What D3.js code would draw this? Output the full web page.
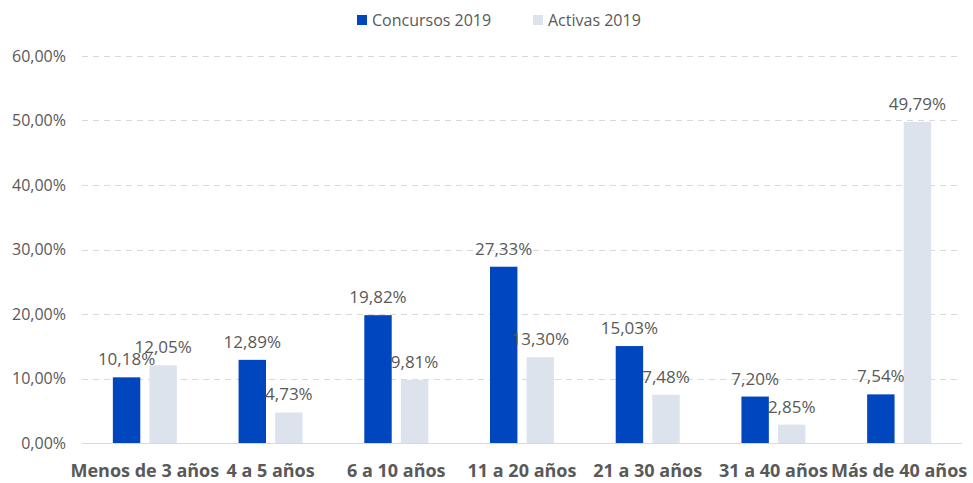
<!DOCTYPE html>
<html>
<head>
<meta charset="utf-8">
<script src="https://cdn.jsdelivr.net/npm/d3@7"></script>
<style>
  body { margin: 0; background: #fff; }
  svg { display: block; font-family: "Open Sans", sans-serif; }
</style>
</head>
<body>
<div id="chart"></div>
<script>
// ========= Data ========= //
const categories = ['Menos de 3 años', '4 a 5 años', '6 a 10 años', '11 a 20 años', '21 a 30 años', '31 a 40 años', 'Más de 40 años'];
const concursos = [10.18, 12.89, 19.82, 27.33, 15.03, 7.20, 7.54];
const activas = [12.05, 4.73, 9.81, 13.30, 7.48, 2.85, 49.79];
const seriesNames = ['Concursos 2019', 'Activas 2019'];
const yTicks = [0, 10, 20, 30, 40, 50, 60];

// ========= Constants ========= //
const width = 973;
const height = 483;
const margin = { top: 56, right: 11, bottom: 40, left: 82 };
const colors = ['#0046BE', '#DCE3EC'];
const textColor = '#595959';
const fmt = (v) => v.toFixed(2).replace('.', ',') + '%';

const svg = d3.select('#chart').append('svg')
  .attr('width', width)
  .attr('height', height);

// ========= Scales ========= //
const x = d3.scaleBand()
  .domain(categories)
  .range([margin.left, width - margin.right]);

const x1 = d3.scaleBand()
  .domain(seriesNames)
  .range([x.bandwidth() / 2 - 32, x.bandwidth() / 2 + 32])
  .paddingInner(0.25);

const y = d3.scaleLinear()
  .domain([0, 60])
  .range([height - margin.bottom, margin.top]);

// ========= Grid ========= //
svg.append('g')
  .selectAll('line')
  .data(yTicks.filter((d) => d > 0))
  .join('line')
  .attr('x1', margin.left)
  .attr('x2', width - margin.right)
  .attr('y1', (d) => Math.round(y(d)) + 0.5)
  .attr('y2', (d) => Math.round(y(d)) + 0.5)
  .attr('stroke', '#D9D9D9')
  .attr('stroke-width', 1)
  .attr('stroke-dasharray', '6,5');

// ========= Y axis labels ========= //
svg.append('g')
  .selectAll('text')
  .data(yTicks)
  .join('text')
  .attr('x', 66)
  .attr('y', (d) => y(d))
  .attr('dy', '0.36em')
  .attr('text-anchor', 'end')
  .attr('fill', textColor)
  .attr('font-size', 16)
  .text((d) => d.toFixed(2).replace('.', ',') + '%');

// ========= Bars ========= //
const rows = categories.map((c, i) => ({ cat: c, values: [concursos[i], activas[i]] }));

const groups = svg.append('g')
  .selectAll('g')
  .data(rows)
  .join('g')
  .attr('transform', (d) => `translate(${x(d.cat)},0)`);

groups.selectAll('rect')
  .data((d) => d.values.map((v, j) => ({ v, s: seriesNames[j], j })))
  .join('rect')
  .attr('x', (d) => x1(d.s))
  .attr('width', x1.bandwidth())
  .attr('y', (d) => y(d.v))
  .attr('height', (d) => y(0) - y(d.v))
  .attr('fill', (d) => colors[d.j]);

groups.selectAll('text')
  .data((d) => d.values.map((v, j) => ({ v, s: seriesNames[j] })))
  .join('text')
  .attr('x', (d) => x1(d.s) + x1.bandwidth() / 2)
  .attr('y', (d) => y(d.v) - 12)
  .attr('text-anchor', 'middle')
  .attr('fill', textColor)
  .attr('font-size', 17)
  .text((d) => fmt(d.v));

// ========= Baseline ========= //
svg.append('line')
  .attr('x1', margin.left)
  .attr('x2', width - margin.right)
  .attr('y1', Math.round(y(0)) + 0.5)
  .attr('y2', Math.round(y(0)) + 0.5)
  .attr('stroke', '#D9D9D9')
  .attr('stroke-width', 1);

// ========= X axis labels ========= //
svg.append('g')
  .selectAll('text')
  .data(categories)
  .join('text')
  .attr('x', (d) => x(d) + x.bandwidth() / 2)
  .attr('y', 477)
  .attr('text-anchor', 'middle')
  .attr('fill', textColor)
  .attr('font-size', 18)
  .attr('font-weight', 'bold')
  .text((d) => d);

// ========= Legend ========= //
const legendX = [357, 533];
const legend = svg.append('g')
  .selectAll('g')
  .data(seriesNames)
  .join('g')
  .attr('transform', (d, i) => `translate(${legendX[i]},15)`);

legend.append('rect')
  .attr('width', 10)
  .attr('height', 10)
  .attr('fill', (d, i) => colors[i]);

legend.append('text')
  .attr('x', 15)
  .attr('y', 5)
  .attr('dy', '0.36em')
  .attr('fill', textColor)
  .attr('font-size', 16)
  .text((d) => d);
</script>
</body>
</html>
